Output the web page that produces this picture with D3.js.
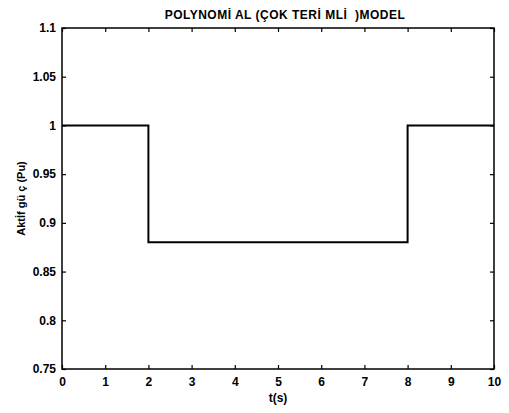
<!DOCTYPE html>
<html>
<head>
<meta charset="utf-8">
<script src="https://cdn.jsdelivr.net/npm/d3@7/dist/d3.min.js"></script>
<style>
  html, body { margin: 0; padding: 0; background: #fff; }
  svg { display: block; }
  text { font-family: "Liberation Sans", Arial, sans-serif; font-weight: bold; fill: #000; }
</style>
</head>
<body>
<svg id="chart" width="509" height="413"></svg>
<script>
// Step response of active power for the polynomial load model
const timePoints = [0, 2, 2, 8, 8, 10];
const powerValues = [1, 1, 0.88, 0.88, 1, 1];
const xTicks = [0, 1, 2, 3, 4, 5, 6, 7, 8, 9, 10];
const yTicks = [0.75, 0.8, 0.85, 0.9, 0.95, 1, 1.05, 1.1];
const yTickLabels = ["0.75", "0.8", "0.85", "0.9", "0.95", "1", "1.05", "1.1"];
const titleText = "POLYNOMİ AL (ÇOK TERİ MLİ  )MODEL";
const xLabelText = "t(s)";
const yLabelText = "Aktİf gü ç (Pu)";

const svg = d3.select("#chart");
const plotLeft = 62, plotRight = 494, plotTop = 28, plotBottom = 369;

const x = d3.scaleLinear().domain([0, 10]).range([plotLeft, plotRight]);
const y = d3.scaleLinear().domain([0.75, 1.1]).range([plotBottom, plotTop]);

const tickLen = 4;

// Frame
svg.append("rect")
  .attr("x", plotLeft).attr("y", plotTop)
  .attr("width", plotRight - plotLeft).attr("height", plotBottom - plotTop)
  .attr("fill", "none").attr("stroke", "#000").attr("stroke-width", 1.5);

// Bottom axis (inward ticks)
const xAxisB = svg.append("g").attr("transform", `translate(0,${plotBottom})`)
  .call(d3.axisBottom(x).tickValues(xTicks).tickSize(-tickLen).tickPadding(8).tickFormat(d3.format("d")));
// Top axis ticks
const xAxisT = svg.append("g").attr("transform", `translate(0,${plotTop})`)
  .call(d3.axisTop(x).tickValues(xTicks).tickSize(-tickLen).tickFormat(""));
// Left axis
const yAxisL = svg.append("g").attr("transform", `translate(${plotLeft},0)`)
  .call(d3.axisLeft(y).tickValues(yTicks).tickSize(-tickLen).tickPadding(6)
    .tickFormat((d, i) => yTickLabels[i]));
// Right axis ticks
const yAxisR = svg.append("g").attr("transform", `translate(${plotRight},0)`)
  .call(d3.axisRight(y).tickValues(yTicks).tickSize(-tickLen).tickFormat(""));

[xAxisB, xAxisT, yAxisL, yAxisR].forEach(g => {
  g.select(".domain").remove();
  g.selectAll(".tick line").attr("stroke", "#000").attr("stroke-width", 1.2);
  g.selectAll(".tick text").style("font-size", "12px").style("font-weight", "bold")
    .attr("fill", "#000");
});

// Data line
const line = d3.line()
  .x((d, i) => x(timePoints[i]))
  .y(d => y(d));
svg.append("path")
  .datum(powerValues)
  .attr("d", line)
  .attr("fill", "none")
  .attr("stroke", "#000")
  .attr("stroke-width", 2);

// Title
svg.append("text")
  .attr("x", 285).attr("y", 19)
  .attr("text-anchor", "middle")
  .style("font-size", "12px")
  .style("letter-spacing", "0.5px")
  .style("white-space", "pre")
  .text(titleText);

// X label
svg.append("text")
  .attr("x", (plotLeft + plotRight) / 2).attr("y", 402)
  .attr("text-anchor", "middle")
  .style("font-size", "12px")
  .text(xLabelText);

// Y label
svg.append("text")
  .attr("transform", `translate(25,${(plotTop + plotBottom) / 2}) rotate(-90)`)
  .attr("text-anchor", "middle")
  .style("font-size", "11px")
  .text(yLabelText);
</script>
</body>
</html>
